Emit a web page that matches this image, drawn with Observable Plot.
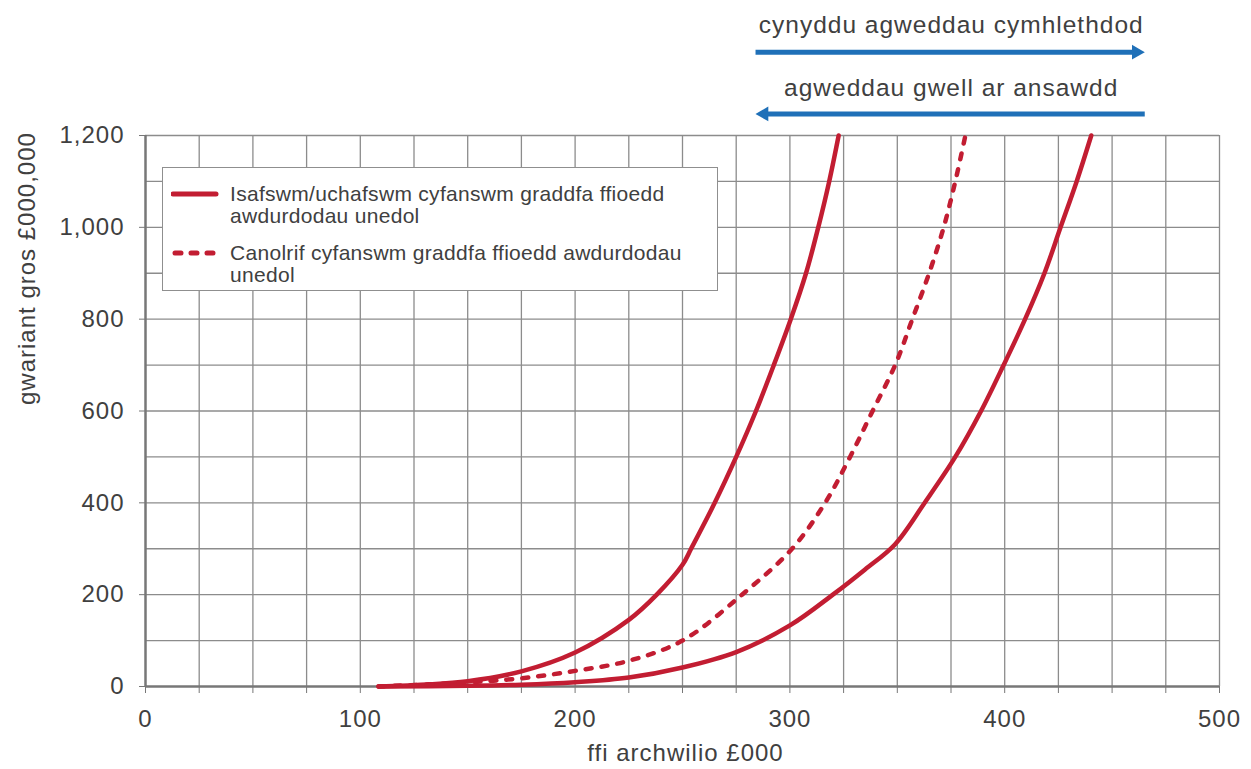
<!DOCTYPE html>
<html>
<head>
<meta charset="utf-8">
<script src="https://cdn.jsdelivr.net/npm/d3@7"></script>
<script src="https://cdn.jsdelivr.net/npm/@observablehq/plot@0.6"></script>
<style>
  html, body { margin: 0; padding: 0; background: #fff; }
  #wrap { position: relative; width: 1251px; height: 769px; font-family: "Liberation Sans", Arial, sans-serif; color: #404040; }
  #legend { position: absolute; left: 162px; top: 167px; width: 556px; height: 124px; box-sizing: border-box;
            border: 1.5px solid #8f8f8f; background: #fff; }
  .entry { position: absolute; left: 0; width: 100%; }
  .entry svg { position: absolute; left: 8px; }
  .entry .txt { position: absolute; left: 67px; font-size: 21px; line-height: 22px; letter-spacing: 0.3px; white-space: nowrap; }
</style>
</head>
<body>
<div id="wrap"></div>
<script>
// ---- data ----
const xLabel = "ffi archwilio £000";
const yLabel = "gwariant gros £000,000";
const legendLabels = [
  ["Isafswm/uchafswm cyfanswm graddfa ffioedd", "awdurdodau unedol"],
  ["Canolrif cyfanswm graddfa ffioedd awdurdodau", "unedol"]
];

// upper-left solid bound
const upperX = [108.5, 150, 175, 200, 225, 238, 250, 254, 265, 275, 284.2, 292.5, 300.4, 307.5, 313.2, 318.3, 322.7];
const upperY = [0, 11.6, 33, 74, 145, 200, 265, 300, 400, 500, 600, 700, 800, 900, 1000, 1100, 1200];

// lower-right solid bound
const lowerX = [108.5, 150, 175, 200, 225, 250, 275, 300, 320, 335, 349, 363, 377, 389, 399.5, 409.5, 418.5, 426, 433.5, 440.3];
const lowerY = [0, 1.5, 4, 9.5, 19.6, 41.5, 75, 133, 200, 255, 310, 402, 500, 600, 700, 800, 900, 1000, 1100, 1200];

// dashed median
const medianX = [108.5, 150, 175, 200, 225, 250, 277.7, 301, 316.4, 328, 338.5, 349, 357, 364.8, 371.6, 377, 381.7];
const medianY = [0, 9, 18, 34, 56, 100, 200, 300, 400, 500, 600, 700, 800, 900, 1000, 1100, 1200];

// annotation arrows above the plot
const arrowLabels = ["cynyddu agweddau cymhlethdod", "agweddau gwell ar ansawdd"];
const arrowFrom = [284, 465.2];
const arrowTo = [465.2, 284];
const arrowLevel = [1381.5, 1247];
const arrowLabelLevel = [1423.7, 1287];
const arrowLabelX = 375.1;

const xTicks = d3.range(0, 501, 25);
const yTicks = d3.range(0, 1201, 200);
const xGrid = d3.range(25, 501, 25);
const yGrid = d3.range(100, 1201, 100);

// ---- build tables ----
const toRows = (xs, ys, s) => xs.map((x, i) => ({series: s, x, y: ys[i]}));
const boundRows = [...toRows(upperX, upperY, "upper"), ...toRows(lowerX, lowerY, "lower")];
const medianRows = toRows(medianX, medianY, "median");
const headInset = 4;
const arrows = arrowLabels.map((label, i) => {
  const dir = Math.sign(arrowTo[i] - arrowFrom[i]);
  return {label, x1: arrowFrom[i], x2: arrowTo[i] - dir * headInset, tip: arrowTo[i], dir,
          y: arrowLevel[i], ly: arrowLabelLevel[i]};
});

const red = "#c21d32";
const blue = "#1f70b8";
const grid = "#8c8c8c";
const axisGray = "#777777";

const chart = Plot.plot({
  width: 1251,
  height: 769,
  marginLeft: 145,
  marginRight: 32,
  marginTop: 135,
  marginBottom: 83,
  style: {fontFamily: "'Liberation Sans', Arial, sans-serif", fontSize: "24px", color: "#404040", letterSpacing: "1px", background: "#fff"},
  x: {domain: [0, 500]},
  y: {domain: [0, 1200]},
  marks: [
    Plot.gridX(xGrid, {stroke: grid, strokeOpacity: 1, strokeWidth: 1.3}),
    Plot.gridY(yGrid, {stroke: grid, strokeOpacity: 1, strokeWidth: 1.3}),
    Plot.axisX({ticks: xTicks, tickFormat: d => d % 100 === 0 ? String(d) : "", tickSize: 7, tickPadding: 16,
                stroke: axisGray, fill: "#404040", label: null}),
    Plot.axisY({ticks: yTicks, tickFormat: d3.format(","), tickSize: 6, tickPadding: 15,
                stroke: axisGray, fill: "#404040", label: null}),
    Plot.ruleY([0], {stroke: axisGray, strokeWidth: 2.5}),
    Plot.ruleX([0], {stroke: axisGray, strokeWidth: 2.5}),
    Plot.line(boundRows, {x: "x", y: "y", z: "series", stroke: red, strokeWidth: 4.5, curve: "catmull-rom"}),
    Plot.line(medianRows, {x: "x", y: "y", stroke: red, strokeWidth: 4.5, strokeDasharray: "6,10", strokeLinecap: "round", curve: "catmull-rom"}),
    Plot.link(arrows, {x1: "x1", x2: "x2", y1: "y", y2: "y", stroke: blue, strokeWidth: 5}),
    Plot.dot(arrows, {x: "tip", y: "y", symbol: "triangle", r: 5.5, fill: blue, stroke: "none",
                      rotate: d => d.dir > 0 ? 90 : -90}),
    Plot.text(arrows, {x: () => arrowLabelX, y: "ly", text: "label", lineAnchor: "bottom", fill: "#404040", fontSize: 24.5}),
    Plot.text([xLabel], {text: d => d, frameAnchor: "bottom", dy: 74, dx: 3, lineAnchor: "bottom", fill: "#404040", fontSize: 24}),
    Plot.text([yLabel], {text: d => d, frameAnchor: "left", rotate: -90, dx: -111, dy: -6, lineAnchor: "bottom", fill: "#404040", fontSize: 24})
  ]
});

// shift triangle heads so the tip lands on the arrow end
chart.querySelectorAll("g[aria-label='dot'] path").forEach((p, i) => {
  const a = arrows[i];
  const t = p.getAttribute("transform") || "";
  p.setAttribute("transform", `translate(${-a.dir * 8.5},0) ` + t);
});

const wrap = document.getElementById("wrap");
wrap.appendChild(chart);

// legend
const legend = document.createElement("div");
legend.id = "legend";
const entryTops = [15, 73.5];
legendLabels.forEach((lines, i) => {
  const e = document.createElement("div");
  e.className = "entry";
  e.style.top = entryTops[i] + "px";
  const dash = i === 1 ? `stroke-dasharray="6,10" stroke-linecap="round"` : `stroke-linecap="round"`;
  const x1 = i === 1 ? 4 : 2;
  e.innerHTML = `<svg width="50" height="22" style="top:0"><line x1="${x1}" x2="45" y1="11" y2="11" stroke="${red}" stroke-width="5" ${dash}/></svg>` +
    `<div class="txt">${lines.join("<br>")}</div>`;
  legend.appendChild(e);
});
wrap.appendChild(legend);
</script>
</body>
</html>
